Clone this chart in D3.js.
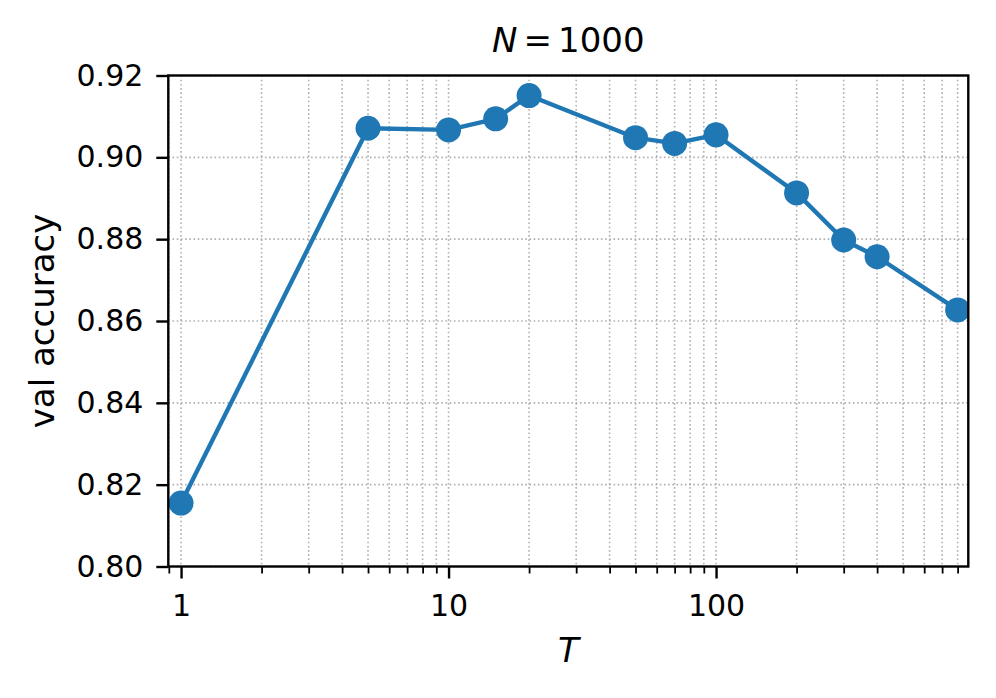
<!DOCTYPE html>
<html>
<head>
<meta charset="utf-8">
<script src="https://cdn.jsdelivr.net/npm/d3@7"></script>
<style>
  html, body { margin: 0; padding: 0; background: #fff; }
  svg { display: block; font-family: "DejaVu Sans", sans-serif; }
</style>
</head>
<body>
<svg id="chart" width="996" height="698"></svg>
<script>
// Data
const T_values = [1, 5, 10, 15, 20, 50, 70, 100, 200, 300, 400, 800];
const accuracy = [0.8155, 0.9071, 0.9067, 0.9094, 0.9151, 0.9048, 0.9034, 0.9055, 0.8913, 0.8798, 0.8757, 0.8627];
const xTickLabels = [1, 10, 100];
const yTickValues = [0.80, 0.82, 0.84, 0.86, 0.88, 0.90, 0.92];
const xDomain = [0.896, 877];
const yDomain = [0.80, 0.92];

const svg = d3.select("#chart");
const margin = { left: 168.3, right: 996 - 968.3, top: 75.5, bottom: 698 - 566.5 };
const W = 996, H = 698;
const x = d3.scaleLog().domain(xDomain).range([margin.left, W - margin.right]);
const y = d3.scaleLinear().domain(yDomain).range([H - margin.bottom, margin.top]);

const color = "#1f77b4";
const gridColor = "#b0b0b0";

// minor ticks for x
const minorTicks = [];
for (let e = -1; e <= 3; e++) {
  for (let m = 1; m <= 9; m++) {
    const v = m * Math.pow(10, e);
    if (v >= xDomain[0] && v <= xDomain[1]) minorTicks.push(v);
  }
}
const majorX = minorTicks.filter(v => xTickLabels.includes(v));
const minorX = minorTicks.filter(v => !xTickLabels.includes(v));

// clip path
svg.append("defs").append("clipPath").attr("id", "clip")
  .append("rect")
  .attr("x", x.range()[0]).attr("y", y.range()[1])
  .attr("width", x.range()[1] - x.range()[0])
  .attr("height", y.range()[0] - y.range()[1]);

// grid
const grid = svg.append("g");
grid.selectAll("line.vx").data(minorTicks).enter().append("line")
  .attr("x1", d => x(d)).attr("x2", d => x(d))
  .attr("y1", y.range()[1]).attr("y2", y.range()[0])
  .attr("stroke", gridColor).attr("stroke-width", 1.6)
  .attr("stroke-dasharray", "1.6,2.6");
grid.selectAll("line.hy").data(yTickValues).enter().append("line")
  .attr("y1", d => y(d)).attr("y2", d => y(d))
  .attr("x1", x.range()[0]).attr("x2", x.range()[1])
  .attr("stroke", gridColor).attr("stroke-width", 1.6)
  .attr("stroke-dasharray", "1.6,2.6");

// line & markers
const plot = svg.append("g").attr("clip-path", "url(#clip)");
const pts = T_values.map((t, i) => [t, accuracy[i]]);
plot.append("path")
  .attr("d", d3.line().x(d => x(d[0])).y(d => y(d[1]))(pts))
  .attr("fill", "none").attr("stroke", color).attr("stroke-width", 4.4)
  .attr("stroke-linejoin", "round").attr("stroke-linecap", "square");
plot.selectAll("circle").data(pts).enter().append("circle")
  .attr("cx", d => x(d[0])).attr("cy", d => y(d[1])).attr("r", 12.5)
  .attr("fill", color);

// axes
const xAxisG = svg.append("g").attr("transform", `translate(0,${y.range()[0]})`);
xAxisG.call(d3.axisBottom(x).tickValues(majorX).tickFormat(d3.format("d")).tickSize(12).tickPadding(16))
  .call(g => g.select(".domain").remove());
xAxisG.selectAll(".tick line").attr("stroke", "#000").attr("stroke-width", 2.4);
xAxisG.selectAll(".tick text").attr("font-size", 30).attr("fill", "#000")
  .attr("font-family", "DejaVu Sans");
const xMinorG = svg.append("g").attr("transform", `translate(0,${y.range()[0]})`);
xMinorG.call(d3.axisBottom(x).tickValues(minorX).tickFormat("").tickSize(7))
  .call(g => g.select(".domain").remove());
xMinorG.selectAll(".tick line").attr("stroke", "#000").attr("stroke-width", 1.8);

const yAxisG = svg.append("g").attr("transform", `translate(${x.range()[0]},0)`);
yAxisG.call(d3.axisLeft(y).tickValues(yTickValues).tickFormat(d3.format(".2f")).tickSize(12).tickPadding(13))
  .call(g => g.select(".domain").remove());
yAxisG.selectAll(".tick line").attr("stroke", "#000").attr("stroke-width", 2.4);
yAxisG.selectAll(".tick text").attr("font-size", 30).attr("fill", "#000")
  .attr("font-family", "DejaVu Sans");

// spines
svg.append("rect")
  .attr("x", x.range()[0]).attr("y", y.range()[1])
  .attr("width", x.range()[1] - x.range()[0])
  .attr("height", y.range()[0] - y.range()[1])
  .attr("fill", "none").attr("stroke", "#000").attr("stroke-width", 2.4);

// title
const cx = (x.range()[0] + x.range()[1]) / 2;
const title = svg.append("text").attr("x", cx).attr("y", 52)
  .attr("text-anchor", "middle").attr("font-size", 34).attr("fill", "#000");
title.append("tspan").attr("font-style", "italic").text("N");
title.append("tspan").attr("dx", 6).text("=");
title.append("tspan").attr("dx", 6).text("1000");

// x label
svg.append("text").attr("x", cx).attr("y", 662)
  .attr("text-anchor", "middle").attr("font-size", 34).attr("font-style", "italic")
  .attr("fill", "#000").text("T");

// y label
const cy = (y.range()[0] + y.range()[1]) / 2;
svg.append("text").attr("transform", `translate(54,${cy}) rotate(-90)`)
  .attr("text-anchor", "middle").attr("font-size", 34).attr("fill", "#000")
  .text("val accuracy");
</script>
</body>
</html>
